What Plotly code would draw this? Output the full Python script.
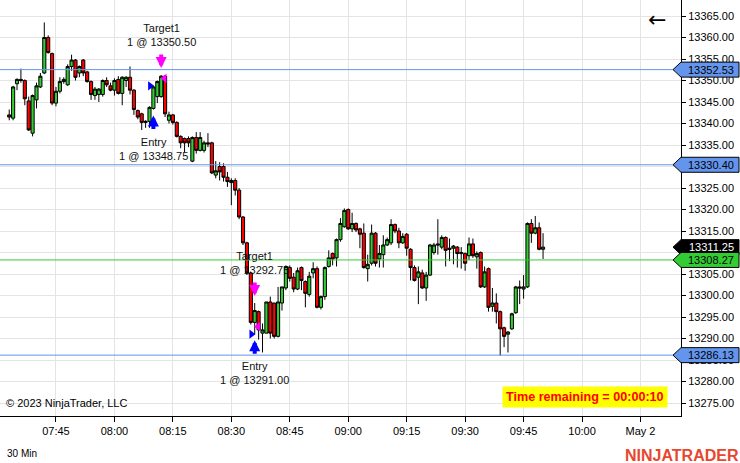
import plotly.graph_objects as go
import pandas as pd

# ---------------- data ----------------
open_ = [13342.00, 13341.25, 13349.25, 13350.25, 13350.00, 13345.25, 13337.75, 13345.50, 13348.50, 13351.75,
         13360.00, 13356.25, 13344.75, 13347.50, 13349.75, 13349.00, 13353.25, 13354.75, 13351.75, 13354.75,
         13352.00, 13349.75, 13346.50, 13346.75, 13346.75, 13350.00, 13348.75, 13347.75, 13350.25, 13347.00,
         13350.00, 13350.75, 13347.75, 13343.00, 13342.25, 13340.25, 13340.50, 13343.50, 13346.25, 13346.25,
         13351.00, 13340.75, 13342.00, 13340.25, 13337.00, 13336.50, 13336.50, 13331.25, 13336.75, 13333.75,
         13333.75, 13335.50, 13335.50, 13328.00, 13330.00, 13330.00, 13327.50, 13326.25, 13326.75, 13324.50,
         13318.25, 13312.25, 13305.25, 13293.75, 13296.25, 13291.25, 13291.25, 13298.50, 13298.25, 13290.50,
         13298.25, 13301.75, 13306.50, 13304.25, 13301.50, 13306.50, 13303.25, 13300.25, 13305.25, 13306.25,
         13297.25, 13299.75, 13306.75, 13309.75, 13308.75, 13313.00, 13316.00, 13320.00, 13315.50, 13316.75,
         13315.50, 13314.50, 13306.25, 13307.50, 13314.50, 13308.50, 13309.50, 13311.75, 13312.25, 13316.50,
         13315.00, 13312.25, 13314.25, 13310.75, 13306.50, 13304.25, 13305.25, 13301.75, 13304.75, 13310.00,
         13312.00, 13311.25, 13313.50, 13311.00, 13311.00, 13311.25, 13309.75, 13309.75, 13309.25, 13312.00,
         13309.00, 13310.00, 13302.00, 13306.25, 13297.50, 13298.25, 13296.25, 13292.50, 13291.00, 13292.25,
         13296.00, 13302.00, 13301.50, 13302.00, 13316.75, 13314.50, 13315.75, 13310.75]
high = [13343.25, 13348.75, 13350.50, 13352.75, 13350.25, 13346.25, 13346.75, 13349.50, 13351.75, 13363.50,
        13360.50, 13356.50, 13348.50, 13350.75, 13350.75, 13353.75, 13356.00, 13355.00, 13353.50, 13355.00,
        13352.25, 13350.00, 13348.50, 13348.25, 13350.25, 13350.75, 13349.50, 13350.50, 13351.00, 13351.00,
        13351.00, 13353.25, 13348.00, 13343.25, 13342.50, 13340.75, 13344.00, 13348.75, 13350.00, 13351.25,
        13351.25, 13342.75, 13342.25, 13340.50, 13337.25, 13336.75, 13337.00, 13337.00, 13338.00, 13338.00,
        13336.00, 13337.75, 13335.75, 13331.25, 13331.00, 13330.75, 13328.75, 13327.25, 13327.25, 13325.00,
        13318.50, 13312.50, 13305.50, 13298.25, 13296.50, 13293.50, 13298.50, 13299.75, 13298.25, 13302.00,
        13302.00, 13307.00, 13307.00, 13305.25, 13306.50, 13306.75, 13303.50, 13305.50, 13307.75, 13306.75,
        13300.00, 13306.75, 13310.50, 13310.00, 13313.25, 13318.00, 13320.25, 13320.25, 13319.25, 13317.00,
        13315.75, 13316.75, 13309.50, 13316.50, 13314.75, 13311.75, 13314.00, 13313.50, 13317.75, 13316.75,
        13315.75, 13314.50, 13314.50, 13311.00, 13307.00, 13306.75, 13306.00, 13305.50, 13312.00, 13312.25,
        13317.75, 13314.00, 13313.75, 13313.25, 13311.75, 13311.50, 13311.25, 13310.00, 13313.50, 13313.25,
        13310.25, 13310.25, 13306.75, 13306.50, 13301.75, 13300.50, 13296.50, 13292.75, 13291.75, 13296.00,
        13302.25, 13303.50, 13304.75, 13317.00, 13317.75, 13318.50, 13317.00, 13314.50]
low = [13340.75, 13340.75, 13347.75, 13349.50, 13344.25, 13338.25, 13337.00, 13343.50, 13348.25, 13351.50,
       13356.25, 13344.25, 13344.00, 13347.00, 13349.25, 13348.75, 13352.25, 13350.00, 13350.75, 13351.00,
       13349.50, 13345.50, 13345.50, 13345.00, 13346.25, 13348.50, 13347.50, 13346.50, 13346.75, 13344.25,
       13348.50, 13346.75, 13342.00, 13341.00, 13338.50, 13339.00, 13339.00, 13343.25, 13344.75, 13346.00,
       13341.50, 13340.00, 13339.75, 13336.75, 13334.25, 13333.25, 13334.50, 13331.00, 13333.00, 13333.50,
       13333.25, 13334.50, 13328.25, 13327.25, 13326.75, 13326.50, 13325.25, 13321.00, 13323.25, 13317.75,
       13311.75, 13304.75, 13293.25, 13291.00, 13289.75, 13286.75, 13291.25, 13290.00, 13290.00, 13290.25,
       13296.50, 13301.25, 13303.25, 13300.75, 13301.25, 13301.25, 13297.25, 13299.75, 13304.00, 13297.00,
       13296.75, 13299.00, 13306.50, 13307.00, 13306.75, 13312.50, 13315.75, 13315.25, 13314.75, 13314.75,
       13311.00, 13306.25, 13303.25, 13307.00, 13306.75, 13306.50, 13306.50, 13311.50, 13311.75, 13314.50,
       13311.00, 13312.00, 13309.25, 13303.50, 13303.25, 13298.00, 13301.50, 13298.75, 13304.50, 13309.50,
       13309.50, 13310.75, 13306.75, 13308.00, 13307.25, 13306.50, 13306.25, 13305.75, 13308.25, 13308.75,
       13306.25, 13301.75, 13301.75, 13296.25, 13296.25, 13293.50, 13286.00, 13288.00, 13286.75, 13292.00,
       13295.75, 13298.00, 13299.25, 13301.75, 13312.25, 13314.25, 13310.50, 13308.50]
close = [13341.50, 13348.50, 13350.25, 13350.00, 13345.75, 13338.50, 13346.50, 13348.75, 13351.00, 13360.00,
         13356.50, 13344.75, 13347.50, 13349.75, 13350.25, 13353.25, 13354.75, 13350.75, 13353.25, 13351.75,
         13349.75, 13346.75, 13348.00, 13348.00, 13350.00, 13349.00, 13347.75, 13350.00, 13347.00, 13350.75,
         13350.75, 13347.75, 13343.25, 13341.50, 13340.25, 13340.50, 13343.75, 13348.50, 13349.75, 13351.00,
         13342.25, 13342.00, 13340.25, 13337.00, 13335.50, 13335.50, 13335.50, 13336.75, 13333.75, 13336.75,
         13335.50, 13335.25, 13328.50, 13329.00, 13328.75, 13327.50, 13326.50, 13326.75, 13324.50, 13318.25,
         13312.25, 13305.25, 13293.75, 13296.50, 13292.00, 13292.00, 13298.50, 13291.25, 13290.50, 13298.50,
         13302.00, 13306.75, 13304.00, 13301.50, 13305.75, 13303.50, 13300.50, 13304.50, 13306.25, 13297.25,
         13299.75, 13306.50, 13308.75, 13308.50, 13313.00, 13316.75, 13319.75, 13315.50, 13316.75, 13315.25,
         13314.25, 13306.50, 13307.25, 13314.50, 13307.50, 13309.75, 13311.75, 13313.00, 13316.50, 13315.00,
         13312.25, 13313.75, 13311.00, 13306.50, 13303.50, 13305.50, 13301.75, 13304.75, 13311.75, 13311.75,
         13311.75, 13313.50, 13310.50, 13310.75, 13311.50, 13309.75, 13310.00, 13307.50, 13312.00, 13309.25,
         13309.75, 13302.00, 13305.50, 13297.25, 13298.25, 13296.25, 13292.25, 13290.50, 13291.50, 13295.75,
         13302.00, 13301.75, 13302.00, 13316.75, 13314.50, 13315.75, 13310.75, 13311.25]

first_bar_time = "2023-05-02 07:33"
bar_times = pd.date_range(first_bar_time, periods=len(close), freq="1min")

x_tick_times = ["2023-05-02 07:45", "2023-05-02 08:00", "2023-05-02 08:15", "2023-05-02 08:30",
                "2023-05-02 08:45", "2023-05-02 09:00", "2023-05-02 09:15", "2023-05-02 09:30",
                "2023-05-02 09:45", "2023-05-02 10:00", "2023-05-02 10:15"]
x_tick_labels = ["07:45", "08:00", "08:15", "08:30", "08:45", "09:00", "09:15", "09:30",
                 "09:45", "10:00", "May 2"]
x_range = ["2023-05-02 07:30:38", "2023-05-02 10:25:24"]
y_range = [13271.98, 13368.72]

blue_lines = [13352.53, 13330.40, 13286.13]
green_line = 13308.27
last_price = close[-1]

entry_bars = [37, 63]
entry_prices = [13348.75, 13291.00]
target_bars = [39, 63]
target_prices = [13350.50, 13292.75]

# ---------------- styles ----------------
FONT = "Liberation Sans, Arial, sans-serif"
GREEN = "#32CD32"
RED = "#FF0000"
BLUE_LINE = "#6495ED"
GRID = "#e4e4e4"

fig = go.Figure()
fig.add_trace(go.Candlestick(
    x=bar_times, open=open_, high=high, low=low, close=close,
    increasing=dict(fillcolor=GREEN, line=dict(color="black", width=1)),
    decreasing=dict(fillcolor=RED, line=dict(color="black", width=1)),
    whiskerwidth=0, showlegend=False, hoverinfo="skip"))

half_bar = pd.Timedelta(seconds=50)
fig.add_trace(go.Scatter(
    x=[bar_times[i] - half_bar for i in entry_bars], y=entry_prices, mode="markers",
    marker=dict(symbol="triangle-right", size=8, color="#0000FF"),
    showlegend=False, hoverinfo="skip"))
fig.add_trace(go.Scatter(
    x=[bar_times[i] + half_bar for i in target_bars], y=target_prices, mode="markers",
    marker=dict(symbol="triangle-left", size=8, color="#FF00FF"),
    showlegend=False, hoverinfo="skip"))

shapes = []
for p in blue_lines:
    shapes.append(dict(type="line", xref="paper", x0=0, x1=1, yref="y", y0=p, y1=p,
                       line=dict(color=BLUE_LINE, width=1), layer="above"))
shapes.append(dict(type="line", xref="paper", x0=0, x1=1, yref="y", y0=green_line, y1=green_line,
                   line=dict(color=GREEN, width=1), layer="above"))

annotations = []

def price_flag(price, fill, textcolor):
    shapes.append(dict(type="path", xref="paper", xsizemode="pixel", xanchor=1,
                       yref="y", ysizemode="pixel", yanchor=price,
                       path="M -8,0 L 0,7.5 L 58,7.5 L 58,-7.5 L 0,-7.5 Z",
                       fillcolor=fill, line=dict(color="black", width=1), layer="above"))
    annotations.append(dict(xref="paper", x=1, xshift=30, yref="y", y=price,
                            text=f"{price:.2f}", showarrow=False, xanchor="center", yanchor="middle",
                            font=dict(family=FONT, size=11, color=textcolor)))

for p in blue_lines:
    price_flag(p, BLUE_LINE, "black")
price_flag(last_price, "black", "white")
price_flag(green_line, GREEN, "black")

# trade arrows and labels
for i, p in zip(entry_bars, entry_prices):
    t = bar_times[i]
    annotations.append(dict(x=t, y=low[i], yshift=-6, ax=0, ay=15, text="", showarrow=True,
                            arrowhead=2, arrowsize=0.55, arrowwidth=4, arrowcolor="#0000FF"))
    annotations.append(dict(x=t, y=low[i], yshift=-24, text=f"Entry<br>1 @ {p:.2f}",
                            showarrow=False, xanchor="center", yanchor="top", align="center",
                            font=dict(family=FONT, size=11, color="#111111")))
for i, p in zip(target_bars, target_prices):
    t = bar_times[i]
    annotations.append(dict(x=t, y=high[i], yshift=7, ax=0, ay=-15, text="", showarrow=True,
                            arrowhead=2, arrowsize=0.55, arrowwidth=4, arrowcolor="#FF00FF"))
    annotations.append(dict(x=t, y=high[i], yshift=25, text=f"Target1<br>1 @ {p:.2f}",
                            showarrow=False, xanchor="center", yanchor="bottom", align="center",
                            font=dict(family=FONT, size=11, color="#111111")))

# static texts
annotations += [
    dict(xref="paper", yref="paper", x=0.006, y=0.031, text="© 2023 NinjaTrader, LLC", showarrow=False,
         xanchor="left", yanchor="middle", font=dict(family=FONT, size=11, color="black")),
    dict(xref="paper", yref="paper", x=0.981, y=0.0445, text="<b>Time remaining = 00:00:10</b>",
         showarrow=False, xanchor="right", yanchor="middle", bgcolor="#FFFF00", borderpad=3,
         font=dict(family=FONT, size=12.6, color="#FF0000")),
    dict(xref="paper", yref="paper", x=0.007, y=-0.091, text="30 Min", showarrow=False,
         xanchor="left", yanchor="middle", font=dict(family=FONT, size=10, color="black")),
    dict(xref="paper", yref="paper", x=1.0822, xshift=4, y=-0.094, text="<b>NINJATRADER</b>",
         showarrow=False, xanchor="right", yanchor="middle",
         font=dict(family=FONT, size=16, color="#E8462E")),
    dict(xref="paper", yref="paper", x=0.9648, y=0.952, text="←", showarrow=False,
         xanchor="center", yanchor="middle", font=dict(family="DejaVu Sans", size=22, color="black")),
]

fig.update_layout(
    width=740, height=463, margin=dict(l=0, r=59, t=0, b=47),
    paper_bgcolor="white", plot_bgcolor="white",
    boxgap=0.2, boxgroupgap=0,
    shapes=shapes, annotations=annotations,
    xaxis=dict(type="date", range=x_range, tickvals=x_tick_times, ticktext=x_tick_labels,
               showgrid=True, gridcolor=GRID, gridwidth=1, ticks="outside", ticklen=5,
               tickcolor="black", showline=True, linecolor="black", linewidth=1,
               zeroline=False, rangeslider=dict(visible=False),
               tickfont=dict(family=FONT, size=11, color="black")),
    yaxis=dict(side="right", range=y_range, tick0=13275, dtick=5, tickformat=".2f",
               showgrid=True, gridcolor=GRID, gridwidth=1, ticks="outside", ticklen=4,
               tickcolor="black", showline=True, linecolor="black", linewidth=1,
               zeroline=False, tickfont=dict(family=FONT, size=11, color="black")),
)

fig.write_html("out.html", config={"displayModeBar": False},
               post_script="document.body.style.margin='0';document.body.style.overflow='hidden';")
